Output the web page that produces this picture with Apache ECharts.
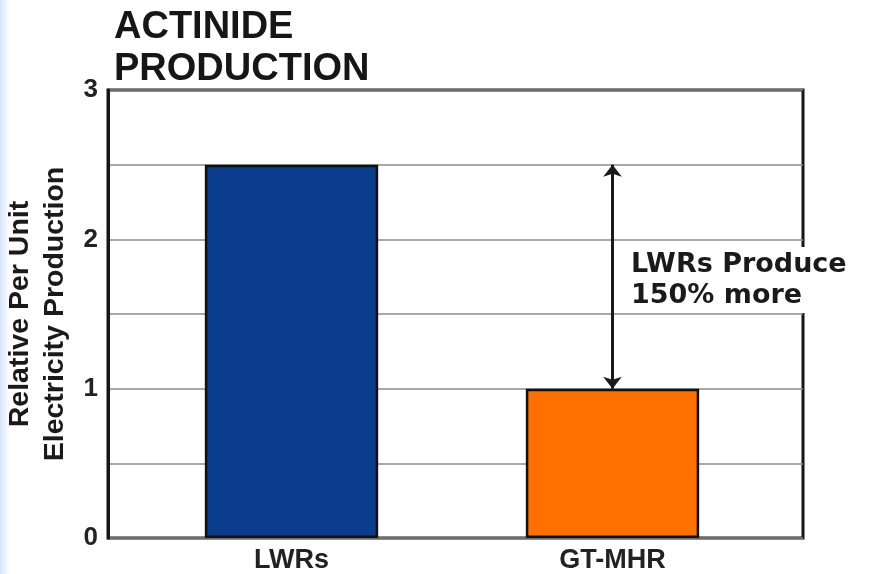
<!DOCTYPE html>
<html>
<head>
<meta charset="utf-8">
<script src="https://cdn.jsdelivr.net/npm/echarts@6/dist/echarts.min.js"></script>
<style>html,body{margin:0;padding:0;background:#fff;}#c{width:894px;height:574px;}</style>
</head>
<body>
<div id="c"></div>
<script>
var categories = ['LWRs', 'GT-MHR'];
var values = [2.5, 1.0];
var barColors = ['#0b3d8f', '#ff7000'];
var yTickLabels = [0, 1, 2, 3];
var titleText = 'ACTINIDE\nPRODUCTION';
var yAxisName = 'Relative Per Unit\nElectricity Production';
var annotationText = 'LWRs Produce\n150% more';
var arrowFrom = 2.5;
var arrowTo = 1.0;

var chart = echarts.init(document.getElementById('c'), null, {renderer: 'canvas'});
var font = "'Liberation Sans', Arial, sans-serif";
chart.setOption({
  backgroundColor: '#ffffff',
  animation: false,
  title: {
    text: titleText,
    left: 109, top: 2,
    textStyle: {fontFamily: font, fontSize: 38, fontWeight: 'bold', color: '#161616', lineHeight: 42}
  },
  grid: [
    {left: 108, right: 91, top: 90, bottom: 36, show: true, borderColor: '#161616', borderWidth: 3, backgroundColor: 'transparent', containLabel: false, outerBoundsMode: 'none'},
    {left: 131, right: 121, top: 90, bottom: 36, show: false, containLabel: false, outerBoundsMode: 'none'}
  ],
  xAxis: [
    {
      gridIndex: 0, type: 'category', data: categories,
      axisLine: {show: false}, axisTick: {show: false}, axisLabel: {show: false}, splitLine: {show: false}
    },
    {
      gridIndex: 1, type: 'category', data: categories,
      axisLine: {show: false},
      axisTick: {show: false},
      axisLabel: {fontFamily: font, fontSize: 27, fontWeight: 'bold', color: '#222', margin: 9}
    }
  ],
  yAxis: [
    {
      gridIndex: 0,
      type: 'value',
      min: 0, max: 3, interval: 0.5,
      name: yAxisName,
      nameLocation: 'middle',
      nameGap: 34,
      nameRotate: 90,
      nameTextStyle: {fontFamily: font, fontSize: 28.5, fontWeight: 'bold', color: '#1a1a1a', lineHeight: 35},
      axisLine: {show: true, lineStyle: {color: '#161616', width: 3}},
      axisTick: {show: false},
      splitLine: {lineStyle: {color: '#8c8c8c', width: 1.5}},
      axisLabel: {
        fontFamily: font, fontSize: 26, fontWeight: 'bold', color: '#222', margin: 10,
        formatter: function (v) { return yTickLabels.indexOf(v) >= 0 ? String(v) : ''; }
      }
    },
    {
      gridIndex: 1, type: 'value', min: 0, max: 3, interval: 0.5,
      axisLine: {show: false}, axisTick: {show: false}, axisLabel: {show: false}, splitLine: {show: false}
    }
  ],
  series: [{
    type: 'bar',
    xAxisIndex: 1, yAxisIndex: 1,
    barWidth: '54%',
    data: values.map(function (v, i) {
      return {value: v, itemStyle: {color: barColors[i], borderColor: '#111', borderWidth: 2.5}};
    }),
    markLine: {
      silent: true,
      symbol: ['arrow', 'arrow'],
      symbolSize: [14, 12],
      label: {show: false},
      lineStyle: {color: '#1a1a1a', width: 3, type: 'solid'},
      data: [[{coord: [categories[1], arrowFrom]}, {coord: [categories[1], arrowTo]}]]
    }
  }],
  graphic: [
    {
      type: 'rect', left: 0, top: 0, z: -1,
      shape: {width: 10, height: 574},
      style: {fill: new echarts.graphic.LinearGradient(0, 0, 1, 0, [{offset: 0, color: '#d6e4fa'}, {offset: 1, color: '#ffffff'}])}
    },
    {
      type: 'text', left: 627, top: 247, z: 100,
      style: {
        text: annotationText,
        font: "bold 27px 'DejaVu Sans', sans-serif",
        fill: '#1a1a1a',
        lineHeight: 31,
        backgroundColor: '#ffffff',
        padding: [2, 4, 2, 4]
      }
    }
  ]
});
</script>
</body>
</html>
